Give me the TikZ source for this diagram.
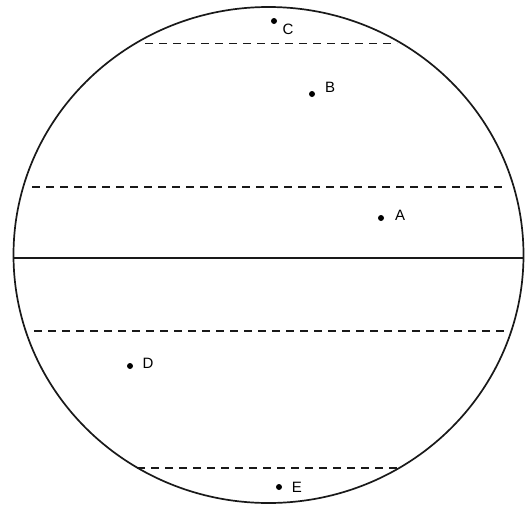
\documentclass[tikz,border=0pt]{standalone}
\usepackage{fontspec}
\setmainfont{Liberation Sans}
\begin{document}
\begin{tikzpicture}[x=1pt,y=-1pt,
  outline/.style={line width=1.7pt,black!90},
  sep/.style={line width=1.7pt,black!90},
  dashline/.style={line width=1.6pt,black!90,dash pattern=on 8pt off 6pt},
  pt/.style={circle,fill=black,inner sep=0pt,minimum size=6pt},
  lbl/.style={font=\fontsize{15}{17}\selectfont,inner sep=0pt,text=black}]
\useasboundingbox (0,0) rectangle (528,504);
\draw[outline] (268.5,255) ellipse [x radius=255, y radius=248];
\coordinate (hl) at (14,258);
\coordinate (hr) at (523,258);
\draw[sep] (hl) -- (hr);
\coordinate (d1l) at (145,43.5);
\coordinate (d1r) at (397,43.5);
\coordinate (d2l) at (32,187);
\coordinate (d2r) at (506,187);
\coordinate (d3l) at (34,331);
\coordinate (d3r) at (504,331);
\coordinate (d4l) at (137,468);
\coordinate (d4r) at (398,468);
\draw[dashline] (d1l) -- (d1r);
\draw[dashline] (d2l) -- (d2r);
\draw[dashline] (d3l) -- (d3r);
\draw[dashline] (d4l) -- (d4r);
\node[pt] (pC) at (274,21) {};
\node[lbl] (lC) at (288,29) {C};
\node[pt] (pB) at (312,94) {};
\node[lbl] (lB) at (330,87) {B};
\node[pt] (pA) at (381,218) {};
\node[lbl] (lA) at (400,215) {A};
\node[pt] (pD) at (130,366) {};
\node[lbl] (lD) at (148,363) {D};
\node[pt] (pE) at (279,487) {};
\node[lbl] (lE) at (297,487) {E};
\end{tikzpicture}
\end{document}
